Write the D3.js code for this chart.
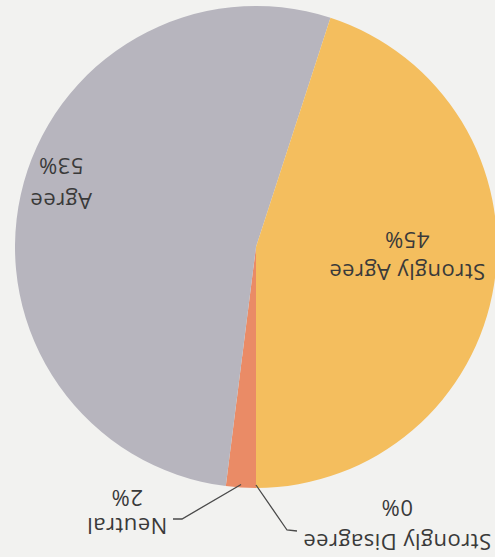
<!DOCTYPE html>
<html>
<head>
<meta charset="utf-8">
<script src="https://cdn.jsdelivr.net/npm/d3@7"></script>
<style>
  html, body { margin: 0; padding: 0; background: #f2f2f0; }
  svg { display: block; }
  text { font-family: "Open Sans", "Noto Sans", sans-serif; fill: #3a3a3a; }
</style>
</head>
<body>
<svg id="chart" width="495" height="557"></svg>
<script>
// Survey answers, in the order the slices run clockwise from 12 o'clock
const categories = ["Strongly Disagree", "Neutral", "Agree", "Strongly Agree"];
const shares = [0, 2, 53, 45];          // percent of respondents
const shareLabels = ["0%", "2%", "53%", "45%"];

// Slice colours
const sliceColours = ["#5b6fa8", "#ea8b66", "#b7b5be", "#f4be5e"];

const W = 495, H = 557;
const svg = d3.select("#chart");

// The printed page is turned over, so the whole chart is drawn upright
// and then rotated half a turn about the middle of the page.
const page = svg.append("g")
  .attr("transform", `rotate(180 ${W / 2} ${H / 2})`);

const cx = 239, cy = 310, radius = 241;
const chart = page.append("g").attr("transform", `translate(${cx},${cy})`);

const rows = categories.map((c, i) => ({ category: c, share: shares[i], label: shareLabels[i] }));

const pie = d3.pie().sort(null).value(d => d.share);
const arcs = pie(rows);

const arc = d3.arc().innerRadius(0).outerRadius(radius);
const rim = d3.arc().innerRadius(radius - 3).outerRadius(radius - 3);

const colour = d3.scaleOrdinal().domain(categories).range(sliceColours);

chart.selectAll("path.slice")
  .data(arcs.filter(d => d.data.share > 0))
  .join("path")
  .attr("class", "slice")
  .attr("d", arc)
  .attr("fill", d => colour(d.data.category));

// Label placement: centre x, baseline of the category line, baseline of the
// percentage line, and (for outside labels) where the leader line meets the text.
const labelLayout = {
  "Strongly Disagree": { x: 98,  y1: 23,  y2: 57,  leader: [198, 26], elbow: [208, 27] },
  "Neutral":           { x: 368, y1: 39,  y2: 67,  leader: [322, 38], elbow: [313, 38] },
  "Agree":             { x: 434, y1: 364, y2: 399 },
  "Strongly Agree":    { x: 88,  y1: 293, y2: 325 }
};

const labels = page.append("g");
arcs.forEach(d => {
  const L = labelLayout[d.data.category];
  labels.append("text")
    .attr("x", L.x).attr("y", L.y1)
    .attr("text-anchor", "middle")
    .attr("font-size", 22)
    .attr("letter-spacing", 0.5)
    .text(d.data.category);
  labels.append("text")
    .attr("x", L.x).attr("y", L.y2)
    .attr("text-anchor", "middle")
    .attr("font-size", 22)
    .attr("letter-spacing", 0.5)
    .text(d.data.label);

  if (L.leader) {
    // leader from the slice's rim to the label
    const [px, py] = rim.centroid(d);
    const pts = [[cx + px, cy + py], L.elbow, L.leader];
    labels.append("path")
      .attr("d", d3.line()(pts))
      .attr("fill", "none")
      .attr("stroke", "#4a4a4a")
      .attr("stroke-width", 1.3);
  }
});
</script>
</body>
</html>
